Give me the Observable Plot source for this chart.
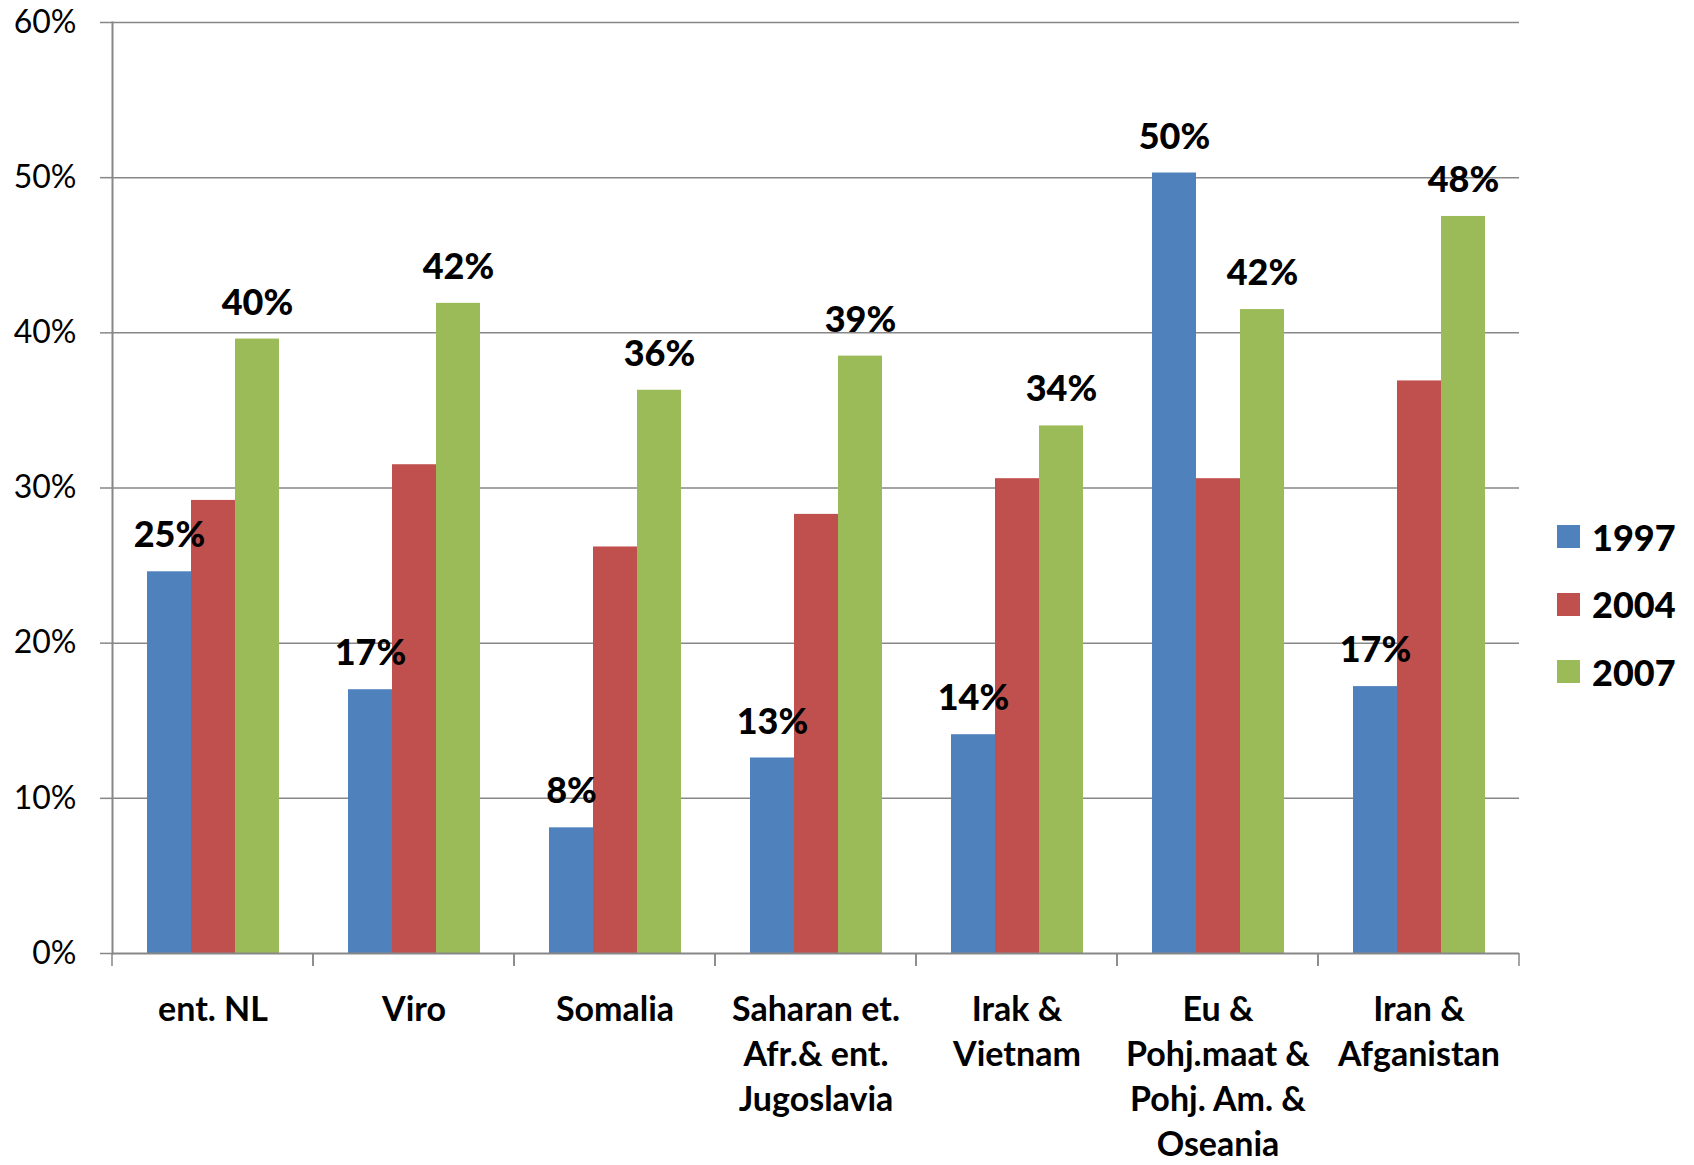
<!DOCTYPE html>
<html>
<head>
<meta charset="utf-8">
<script src="https://cdn.jsdelivr.net/npm/d3@7"></script>
<script src="https://cdn.jsdelivr.net/npm/@observablehq/plot@0.6"></script>
<style>
  html, body { margin: 0; padding: 0; background: #fff; }
  #wrap { position: relative; width: 1694px; height: 1165px; font-family: Lato, "Open Sans", sans-serif; }
  #legend { position: absolute; left: 1557px; top: 503px; }
  #legend .lg-swatches { margin: 0 !important; display: block !important; columns: auto !important; }
  #legend .lg-swatch { display: flex !important; align-items: center; height: 67.5px; padding: 0 !important; margin: 0 !important; font: 900 36px Lato, sans-serif; color: #000; }
  #legend .lg-swatch svg { margin-right: 12px !important; }
</style>
</head>
<body>
<div id="wrap"><div id="chart"></div><div id="legend"></div></div>
<script>
// ---- data ----
const categories = [
  "ent. NL",
  "Viro",
  "Somalia",
  "Saharan et.\nAfr.& ent.\nJugoslavia",
  "Irak &\nVietnam",
  "Eu &\nPohj.maat &\nPohj. Am. &\nOseania",
  "Iran &\nAfganistan"
];
const years = ["1997", "2004", "2007"];
const v1997 = [24.6, 17.0, 8.1, 12.6, 14.1, 50.3, 17.2];
const v2004 = [29.2, 31.5, 26.2, 28.3, 30.6, 30.6, 36.9];
const v2007 = [39.6, 41.9, 36.3, 38.5, 34.0, 41.5, 47.5];
const labeledYears = ["1997", "2007"];
const yTicks = [0, 10, 20, 30, 40, 50, 60];
const colors = ["#4F81BD", "#C0504D", "#9BBB59"];

const seriesValues = {"1997": v1997, "2004": v2004, "2007": v2007};
const data = [];
categories.forEach((c, i) => years.forEach(y => data.push({cat: c, year: y, value: seriesValues[y][i]})));
const labeled = data.filter(d => labeledYears.includes(d.year));

const gray = "#878787";

// tick marks at the category boundaries (Excel style), from the facet's x range
function boundaryTicks(index, scales) {
  const x = scales.x, y = scales.y;
  const [x0, x1] = x.range();
  const y0 = y(0);
  const g = d3.create("svg:g").attr("stroke", gray).attr("stroke-width", 1.5);
  for (const xx of [x0, x1]) {
    g.append("line").attr("x1", xx).attr("x2", xx).attr("y1", y0).attr("y2", y0 + 13);
  }
  return g.node();
}

const chart = Plot.plot({
  width: 1694,
  height: 1165,
  marginLeft: 112,
  marginRight: 175,
  marginTop: 22,
  marginBottom: 212,
  style: {fontFamily: "Lato, 'Open Sans', sans-serif", background: "#fff", color: "#000"},
  fx: {domain: categories, padding: 0},
  x: {domain: years, paddingInner: 0, paddingOuter: 0.75, axis: null},
  y: {domain: [0, 60]},
  color: {domain: years, range: colors},
  marks: [
    Plot.gridY(yTicks.filter(t => t > 0), {stroke: gray, strokeOpacity: 1, strokeWidth: 1.5}),
    Plot.barY(data, {fx: "cat", x: "year", y: "value", fill: "year"}),
    Plot.ruleY([0], {stroke: gray, strokeWidth: 2}),
    boundaryTicks,
    Plot.frame({anchor: "left", facetAnchor: "left", stroke: gray, strokeWidth: 2}),
    Plot.text(labeled, {
      fx: "cat", x: "year", y: "value",
      text: d => Math.round(d.value) + "%",
      dy: -36, fontSize: 36, fontWeight: 900, fill: "#000"
    }),
    Plot.axisY({
      ticks: yTicks, tickSize: 12, tickPadding: 24,
      tickFormat: d => d + "%", label: null,
      stroke: gray, strokeWidth: 1.5, fontSize: 32, color: "#000"
    }),
    Plot.axisFx({
      anchor: "bottom", tickSize: 0, tickPadding: 36, label: null,
      fontSize: 34, fontWeight: "bold", lineHeight: 1.32, color: "#000"
    })
  ]
});
document.getElementById("chart").appendChild(chart);

const legend = Plot.legend({
  legend: "swatches",
  className: "lg",
  columns: 1,
  swatchSize: 23,
  color: {domain: years, range: colors}
});
document.getElementById("legend").appendChild(legend);
</script>
</body>
</html>
